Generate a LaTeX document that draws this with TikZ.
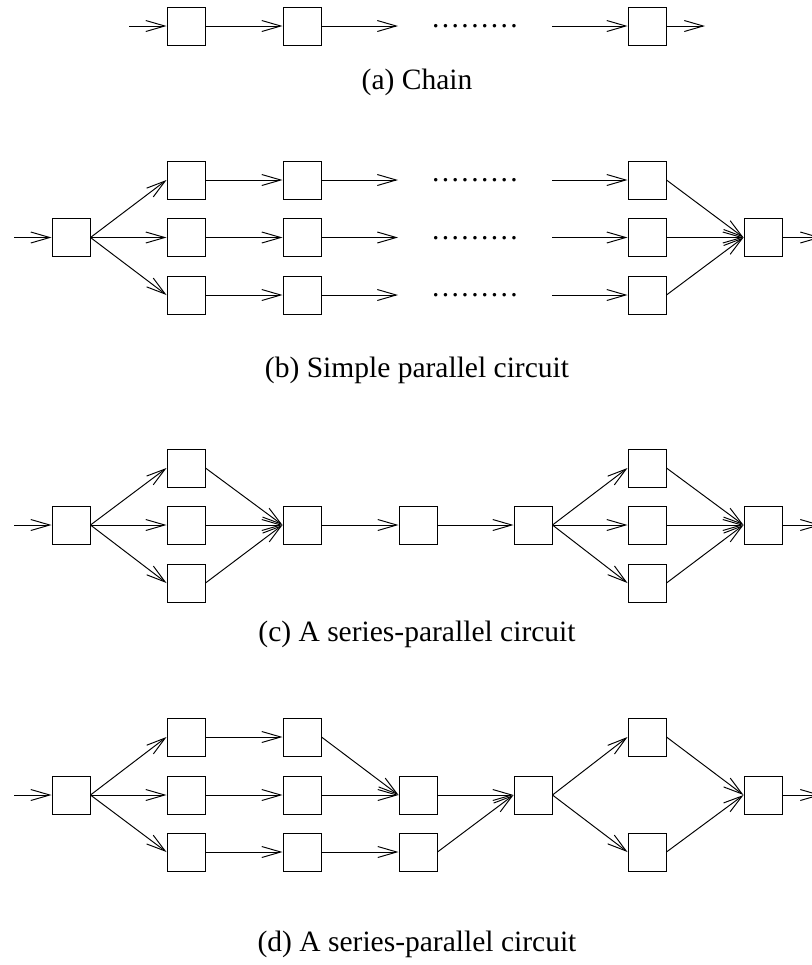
\documentclass[tikz,border=0pt]{standalone}
\usepackage{fontspec}
\setmainfont{Liberation Serif}
\usetikzlibrary{arrows.meta}
\tikzset{
blk/.style={rectangle,draw,line width=0.55pt,minimum size=0.76cm,inner sep=0pt},
arr/.style={-{Straight Barb[length=0.38cm,width=0.22cm]},line width=0.55pt},
dotrow/.style={anchor=base,inner sep=0pt,font=\fontsize{16.8}{20}\selectfont},
capt/.style={anchor=base,inner sep=0pt,font=\fontsize{16.8}{20}\selectfont}
}
% nine evenly spaced dots standing for the omitted stages
\newcommand{\dotseq}{\makebox[1.765cm]{\xleaders\hbox to 0.195cm{\hss.\hss}\hfill}}

\begin{document}
\begin{tikzpicture}[x=0.02cm,y=-0.02cm]
\clip (0,0) rectangle (812,965);

% (a) chain
\coordinate (ain) at (129,26);
\node[blk] (a1) at (186,26) {};
\node[blk] (a2) at (302,26) {};
\coordinate (aend) at (398,26);
\node[dotrow] (adots) at (475,27.5) {\dotseq};
\coordinate (abeg) at (552,26);
\node[blk] (a5) at (647,26) {};
\coordinate (aout) at (705,26);
\draw[arr] (ain)--(a1.west);
\draw[arr] (a1.east)--(a2.west);
\draw[arr] (a2.east)--(aend);
\draw[arr] (abeg)--(a5.west);
\draw[arr] (a5.east)--(aout);
\node[capt] (acap) at (417,89) {(a) Chain};

% (b) simple parallel circuit
\coordinate (bin) at (14,237.5);
\node[blk] (b0) at (71,237.5) {};
\node[blk] (b1t) at (186,180) {};
\node[blk] (b1m) at (186,237.5) {};
\node[blk] (b1b) at (186,295) {};
\node[blk] (b2t) at (302,180) {};
\node[blk] (b2m) at (302,237.5) {};
\node[blk] (b2b) at (302,295) {};
\coordinate (bendt) at (398,180);
\coordinate (bendm) at (398,237.5);
\coordinate (bendb) at (398,295);
\node[dotrow] (bdotst) at (475,181.5) {\dotseq};
\node[dotrow] (bdotsm) at (475,239) {\dotseq};
\node[dotrow] (bdotsb) at (475,296.5) {\dotseq};
\coordinate (bbegt) at (552,180);
\coordinate (bbegm) at (552,237.5);
\coordinate (bbegb) at (552,295);
\node[blk] (b5t) at (647,180) {};
\node[blk] (b5m) at (647,237.5) {};
\node[blk] (b5b) at (647,295) {};
\node[blk] (b6) at (763,237.5) {};
\coordinate (bout) at (821,237.5);
\draw[arr] (bin)--(b0.west);
\draw[arr] (b0.east)--(b1t.west);
\draw[arr] (b0.east)--(b1m.west);
\draw[arr] (b0.east)--(b1b.west);
\draw[arr] (b1t.east)--(b2t.west);
\draw[arr] (b1m.east)--(b2m.west);
\draw[arr] (b1b.east)--(b2b.west);
\draw[arr] (b2t.east)--(bendt);
\draw[arr] (b2m.east)--(bendm);
\draw[arr] (b2b.east)--(bendb);
\draw[arr] (bbegt)--(b5t.west);
\draw[arr] (bbegm)--(b5m.west);
\draw[arr] (bbegb)--(b5b.west);
\draw[arr] (b5t.east)--(b6.west);
\draw[arr] (b5m.east)--(b6.west);
\draw[arr] (b5b.east)--(b6.west);
\draw[arr] (b6.east)--(bout);
\node[capt] (bcap) at (417,377) {(b) Simple parallel circuit};

% (c) series-parallel circuit
\coordinate (cin) at (14,525);
\node[blk] (c0) at (71,525) {};
\node[blk] (c1t) at (186,468) {};
\node[blk] (c1m) at (186,525) {};
\node[blk] (c1b) at (186,583) {};
\node[blk] (c2) at (302,525) {};
\node[blk] (c3) at (418,525) {};
\node[blk] (c4) at (533,525) {};
\node[blk] (c5t) at (647,468) {};
\node[blk] (c5m) at (647,525) {};
\node[blk] (c5b) at (647,583) {};
\node[blk] (c6) at (763,525) {};
\coordinate (cout) at (821,525);
\draw[arr] (cin)--(c0.west);
\draw[arr] (c0.east)--(c1t.west);
\draw[arr] (c0.east)--(c1m.west);
\draw[arr] (c0.east)--(c1b.west);
\draw[arr] (c1t.east)--(c2.west);
\draw[arr] (c1m.east)--(c2.west);
\draw[arr] (c1b.east)--(c2.west);
\draw[arr] (c2.east)--(c3.west);
\draw[arr] (c3.east)--(c4.west);
\draw[arr] (c4.east)--(c5t.west);
\draw[arr] (c4.east)--(c5m.west);
\draw[arr] (c4.east)--(c5b.west);
\draw[arr] (c5t.east)--(c6.west);
\draw[arr] (c5m.east)--(c6.west);
\draw[arr] (c5b.east)--(c6.west);
\draw[arr] (c6.east)--(cout);
\node[capt] (ccap) at (417,641) {(c) A series-parallel circuit};

% (d) series-parallel circuit
\coordinate (din) at (14,795);
\node[blk] (d0) at (71,795) {};
\node[blk] (d1t) at (186,737) {};
\node[blk] (d1m) at (186,795) {};
\node[blk] (d1b) at (186,852) {};
\node[blk] (d2t) at (302,737) {};
\node[blk] (d2m) at (302,795) {};
\node[blk] (d2b) at (302,852) {};
\node[blk] (d3m) at (418,795) {};
\node[blk] (d3b) at (418,852) {};
\node[blk] (d4) at (533,795) {};
\node[blk] (d5t) at (647,737) {};
\node[blk] (d5b) at (647,852) {};
\node[blk] (d6) at (763,795) {};
\coordinate (dout) at (821,795);
\draw[arr] (din)--(d0.west);
\draw[arr] (d0.east)--(d1t.west);
\draw[arr] (d0.east)--(d1m.west);
\draw[arr] (d0.east)--(d1b.west);
\draw[arr] (d1t.east)--(d2t.west);
\draw[arr] (d1m.east)--(d2m.west);
\draw[arr] (d1b.east)--(d2b.west);
\draw[arr] (d2t.east)--(d3m.west);
\draw[arr] (d2m.east)--(d3m.west);
\draw[arr] (d2b.east)--(d3b.west);
\draw[arr] (d3m.east)--(d4.west);
\draw[arr] (d3b.east)--(d4.west);
\draw[arr] (d4.east)--(d5t.west);
\draw[arr] (d4.east)--(d5b.west);
\draw[arr] (d5t.east)--(d6.west);
\draw[arr] (d5b.east)--(d6.west);
\draw[arr] (d6.east)--(dout);
\node[capt] (dcap) at (417,951) {(d) A series-parallel circuit};
\end{tikzpicture}
\end{document}
